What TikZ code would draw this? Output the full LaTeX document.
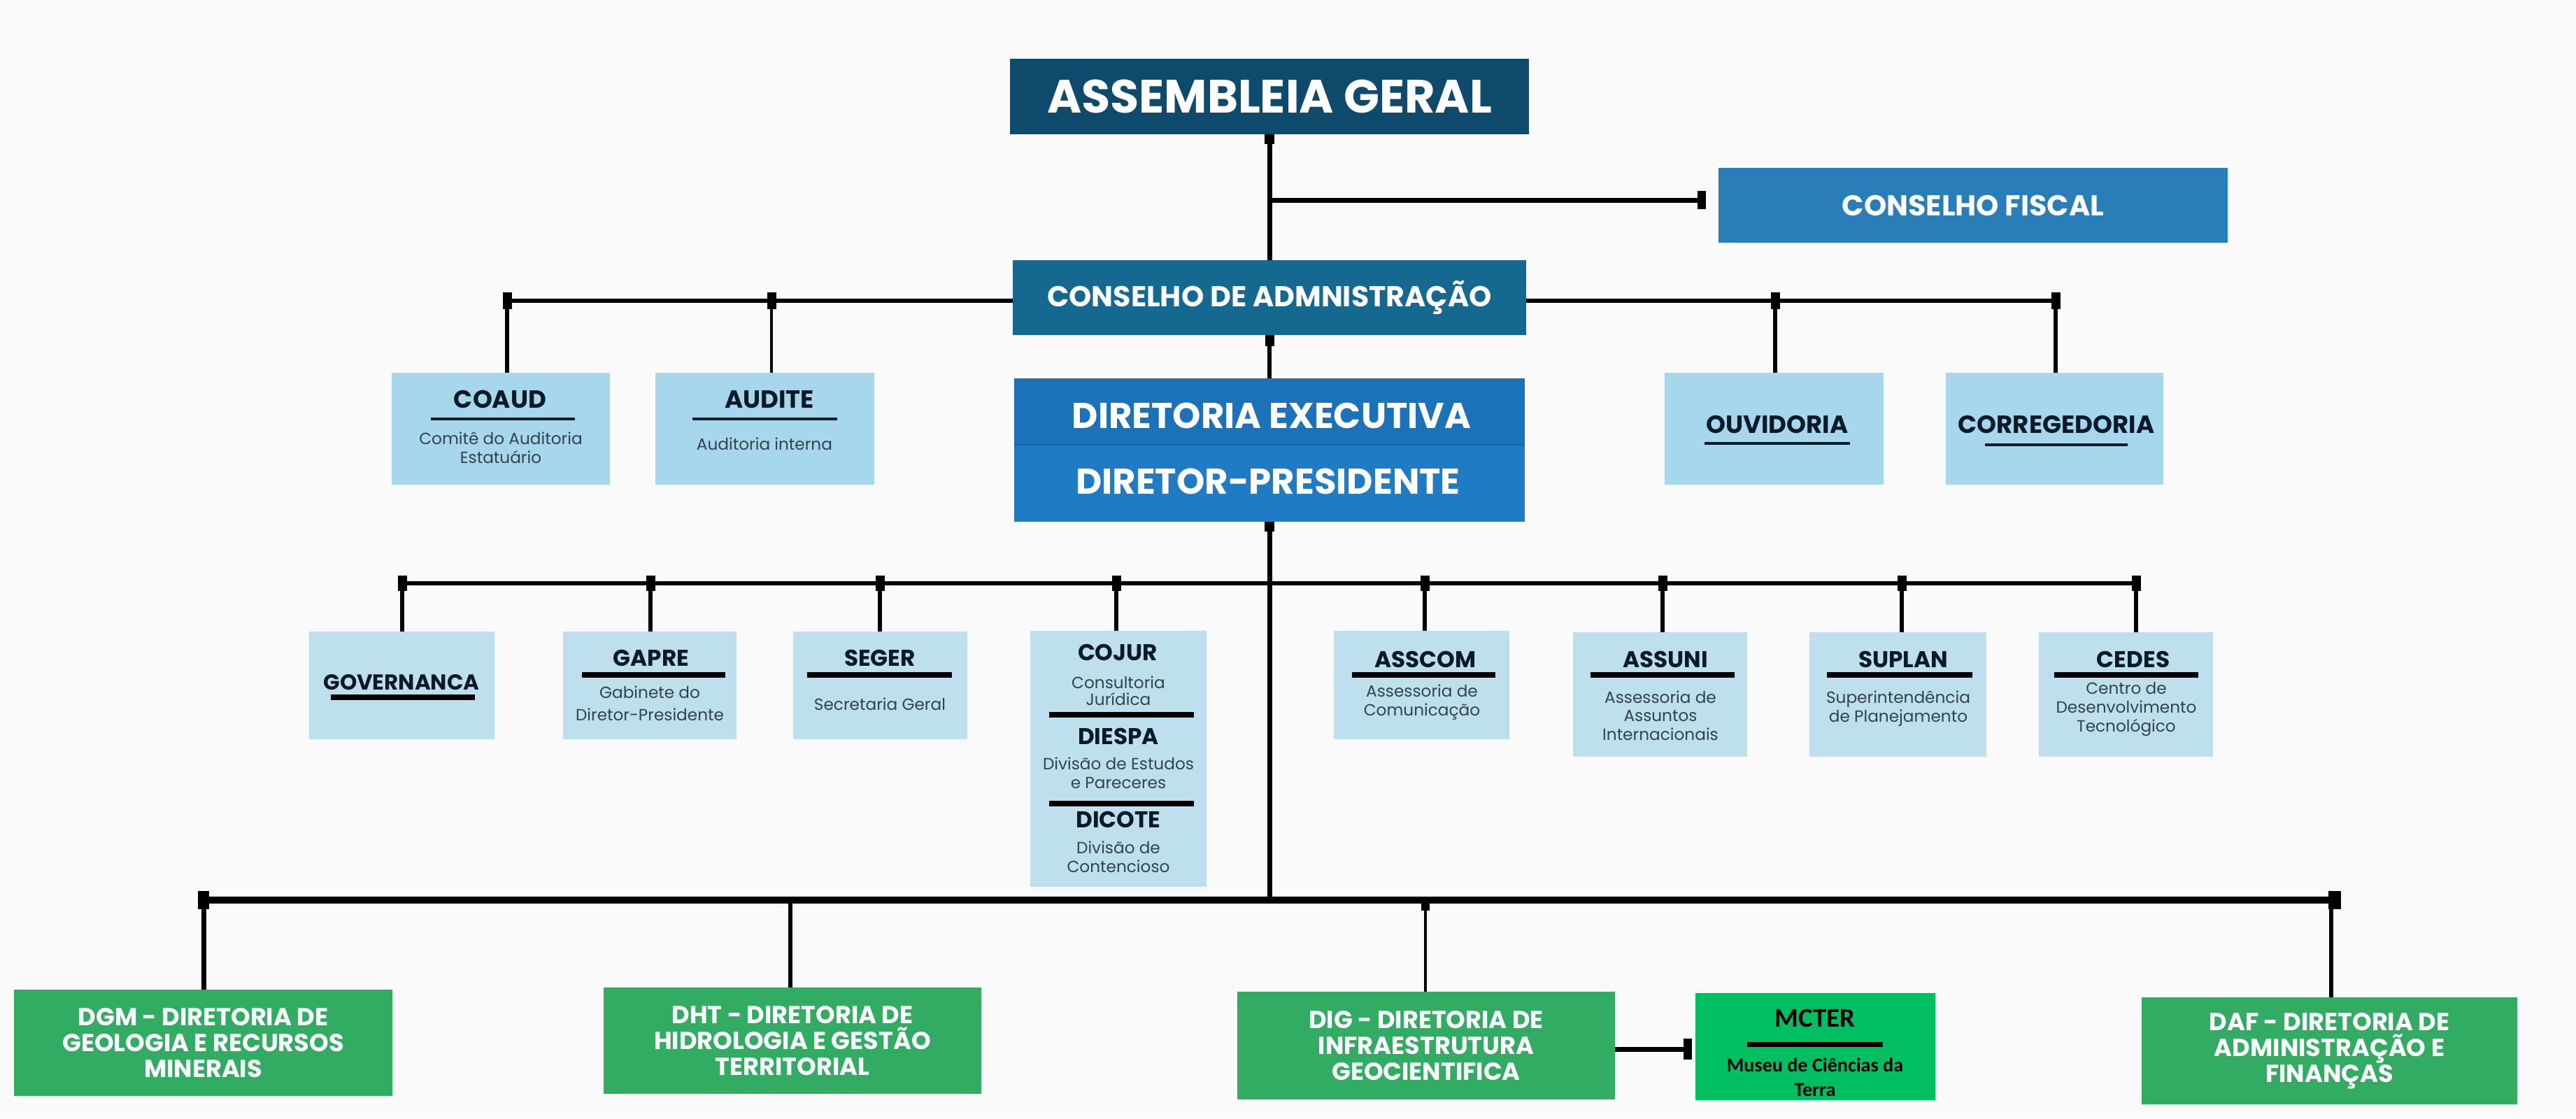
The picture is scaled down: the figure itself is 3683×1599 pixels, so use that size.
\documentclass[tikz,border=0pt]{standalone}
\usepackage{fontspec}
\setmainfont{Poppins}
\newfontfamily\carl{Carlito}
\usetikzlibrary{calc}
\definecolor{bgc}{HTML}{FAFAFA}
\definecolor{assemc}{HTML}{0E4A6B}
\definecolor{consc}{HTML}{15688F}
\definecolor{fiscc}{HTML}{2A7EB7}
\definecolor{dirc}{HTML}{1B72B9}
\definecolor{dirlow}{HTML}{1F7BC4}
\definecolor{lbone}{HTML}{A6D7ED}
\definecolor{lbtwo}{HTML}{BDDFEE}
\definecolor{grnc}{HTML}{31AC62}
\definecolor{mctc}{HTML}{00BE62}
\definecolor{navyc}{HTML}{0A1A2A}
\definecolor{subc}{HTML}{33434D}
\begin{document}
\begin{tikzpicture}[x=0.01cm,y=-0.01cm,
  box/.style={rectangle,inner sep=0pt,outer sep=0pt,draw=none},
  lnA/.style={line width=0.07cm,black},
  lnB/.style={line width=0.055cm,black},
  lnC/.style={line width=0.035cm,black},
  lnD/.style={line width=0.10cm,black},
  ulA/.style={line width=0.045cm,navyc},
  ulB/.style={line width=0.08cm,black},
  fA/.style={font=\fontsize{19}{22}\selectfont\bfseries,text=white},
  fB/.style={font=\fontsize{11.7}{14}\selectfont\bfseries,text=white},
  fC/.style={font=\fontsize{14.6}{17}\selectfont\bfseries,text=white},
  tA/.style={font=\fontsize{10.1}{12}\selectfont\bfseries,text=navyc,inner sep=0pt},
  tB/.style={font=\fontsize{9.3}{11}\selectfont\bfseries,text=navyc,inner sep=0pt},
  sA/.style={font=\fontsize{6.6}{7.6}\selectfont,text=subc,align=center,inner sep=0pt},
  fG/.style={font=\fontsize{10}{10.5}\selectfont\bfseries,text=white,align=center},
  pics/jm/.style args={#1/#2}{code={\fill[black] (-#1/2,-#2/2) rectangle (#1/2,#2/2);}}
]
\useasboundingbox (0,0) rectangle (3683,1599);
\fill[bgc] (0,0) rectangle (3683,1599);

% ---------- top level ----------
\node[box,fill=assemc,minimum width=7.42cm,minimum height=1.08cm,fA] (assem) at (1815,138) {ASSEMBLEIA GERAL};
\node[box,fill=fiscc,minimum width=7.28cm,minimum height=1.07cm,fB] (fiscal) at (2821,293.5) {CONSELHO FISCAL};
\node[box,fill=consc,minimum width=7.34cm,minimum height=1.07cm,fB] (consadm) at (1815,425.5) {CONSELHO DE ADMNISTRAÇÃO};
\node[box,fill=dirc,minimum width=7.30cm,minimum height=2.05cm] (dir) at (1815,643.5) {};
\fill[dirlow] (dir.west |- 0,636) rectangle (dir.south east);
\draw[dirc!85!black,line width=0.02cm] (dir.west |- 0,636) -- (dir.east |- 0,636);
\node[fC] (dir-t1) at (1818,594) {DIRETORIA EXECUTIVA};
\node[fC] (dir-t2) at (1813,688) {DIRETOR-PRESIDENTE};

% ---------- boxes attached to the board ----------
\node[box,fill=lbone,minimum width=3.12cm,minimum height=1.60cm] (coaud) at (716,613) {};
\node[box,fill=lbone,minimum width=3.13cm,minimum height=1.60cm] (audite) at (1093.5,613) {};
\node[box,fill=lbone,minimum width=3.13cm,minimum height=1.60cm] (ouvid) at (2536.5,613) {};
\node[box,fill=lbone,minimum width=3.11cm,minimum height=1.60cm] (correg) at (2937.5,613) {};

\node[tA] (coaud-t) at (715,571) {COAUD};
\draw[ulA] (616,599) -- (822,599);
\node[sA] (coaud-s) at (716,640) {Comitê do Auditoria\\Estatuário};
\node[tA] (audite-t) at (1100,571) {AUDITE};
\draw[ulA] (990,599) -- (1197,599);
\node[sA] (audite-s) at (1093,635) {Auditoria interna};
\node[tA] (ouvid-t) at (2541,607) {OUVIDORIA};
\draw[ulA] (2437,634) -- (2645,634);
\node[tA] (correg-t) at (2940,607) {CORREGEDORIA};
\draw[ulA] (2838,636) -- (3042,636);

% ---------- staff row ----------
\node[box,fill=lbtwo,minimum width=2.65cm,minimum height=1.54cm] (gov) at (574.5,980) {};
\node[box,fill=lbtwo,minimum width=2.48cm,minimum height=1.54cm] (gapre) at (929,980) {};
\node[box,fill=lbtwo,minimum width=2.49cm,minimum height=1.54cm] (seger) at (1258.5,980) {};
\node[box,fill=lbtwo,minimum width=2.52cm,minimum height=3.66cm] (cojur) at (1599,1085) {};
\node[box,fill=lbtwo,minimum width=2.51cm,minimum height=1.55cm] (asscom) at (2032.5,979.5) {};
\node[box,fill=lbtwo,minimum width=2.49cm,minimum height=1.78cm] (assuni) at (2373.5,993) {};
\node[box,fill=lbtwo,minimum width=2.53cm,minimum height=1.78cm] (suplan) at (2713.5,993) {};
\node[box,fill=lbtwo,minimum width=2.49cm,minimum height=1.78cm] (cedes) at (3039.5,993) {};

\node[tB,font=\fontsize{8.8}{11}\selectfont\bfseries] (gov-t) at (574,976) {GOVERNANCA};
\draw[ulB] (473,997) -- (679,997);
\node[tB] (gapre-t) at (931,941) {GAPRE};
\draw[ulB] (832,965) -- (1037,965);
\node[sA,font=\fontsize{6.6}{9}\selectfont] (gapre-s) at (929,1006) {Gabinete do\\Diretor-Presidente};
\node[tB] (seger-t) at (1258,941) {SEGER};
\draw[ulB] (1154,965) -- (1361,965);
\node[sA] (seger-s) at (1258,1007) {Secretaria Geral};

\node[tB] (cojur-t) at (1598,933) {COJUR};
\node[sA,font=\fontsize{6.6}{6.8}\selectfont] (cojur-s) at (1599,988) {Consultoria\\Jurídica};
\draw[ulB] (1500,1022) -- (1707,1022);
\node[tB] (diespa-t) at (1599,1053) {DIESPA};
\node[sA] (diespa-s) at (1599,1105) {Divisão de Estudos\\e Pareceres};
\draw[ulB] (1500,1149) -- (1707,1149);
\node[tB] (dicote-t) at (1599,1172) {DICOTE};
\node[sA] (dicote-s) at (1599,1225) {Divisão de\\Contencioso};

\node[tB] (asscom-t) at (2038,943) {ASSCOM};
\draw[ulB] (1933,965) -- (2138,965);
\node[sA] (asscom-s) at (2033,1004) {Assessoria de\\Comunicação};
\node[tB] (assuni-t) at (2381,943) {ASSUNI};
\draw[ulB] (2274,965) -- (2480,965);
\node[sA] (assuni-s) at (2374,1023) {Assessoria de\\Assuntos\\Internacionais};
\node[tB] (suplan-t) at (2721,943) {SUPLAN};
\draw[ulB] (2612,965) -- (2820,965);
\node[sA] (suplan-s) at (2714,1013) {Superintendência\\de Planejamento};
\node[tB] (cedes-t) at (3050,943) {CEDES};
\draw[ulB] (2937,965) -- (3143,965);
\node[sA] (cedes-s) at (3040,1014) {Centro de\\Desenvolvimento\\Tecnológico};

% ---------- directorates ----------
\node[box,fill=grnc,minimum width=5.41cm,minimum height=1.52cm,fG] (dgm) at (290.5,1491) {DGM - DIRETORIA DE\\GEOLOGIA E RECURSOS\\MINERAIS};
\node[box,fill=grnc,minimum width=5.40cm,minimum height=1.52cm,fG] (dht) at (1133,1488) {DHT - DIRETORIA DE\\HIDROLOGIA E GESTÃO\\TERRITORIAL};
\node[box,fill=grnc,minimum width=5.40cm,minimum height=1.54cm,fG] (dig) at (2039,1495) {DIG - DIRETORIA DE\\INFRAESTRUTURA\\GEOCIENTIFICA};
\node[box,fill=mctc,minimum width=3.43cm,minimum height=1.53cm] (mcter) at (2595.5,1496.5) {};
\node[box,fill=grnc,minimum width=5.37cm,minimum height=1.53cm,fG] (daf) at (3330.5,1502.5) {DAF - DIRETORIA DE\\ADMINISTRAÇÃO E\\FINANÇAS};

\node[font=\carl\fontsize{11}{13}\selectfont\bfseries,text=black,inner sep=0pt] (mcter-t) at (2595,1456) {MCTER};
\draw[line width=0.07cm,black] (2498,1493) -- (2692,1493);
\node[font=\carl\fontsize{8}{10}\selectfont\bfseries,text=black,align=center,inner sep=0pt] (mcter-s) at (2595,1540) {Museu de Ciências da\\Terra};

% ---------- connectors ----------
% assembly -> board, fiscal council
\draw[lnA] (assem) -- (consadm);
\pic at ($(assem.south)+(0,7)$) {jm=14/14};
\coordinate (fj) at (1815,286);
\coordinate (fe) at (2433,286);
\draw[lnA] (fj) -- (fe);
\pic at (fe) {jm=12/26};

% board -> committees
\coordinate (jL1) at (725,430);
\coordinate (jL2) at (1103,430);
\coordinate (jR1) at (2538,430);
\coordinate (jR2) at (2939,430);
\draw[lnB] (consadm.west |- jL1) -- (jL1);
\draw[lnB] (jL1) -- (jL1 |- coaud.north);
\draw[lnC] (jL2) -- (jL2 |- audite.north);
\draw[lnB] (consadm.east |- jR1) -- (jR2);
\draw[lnB] (jR1) -- (jR1 |- ouvid.north);
\draw[lnB] (jR2) -- (jR2 |- correg.north);
\foreach \c in {jL1,jL2,jR1,jR2} {\pic at (\c) {jm=13/24};}

% board -> executive board
\draw[lnB] (consadm) -- (dir);
\pic at ($(consadm.south)+(0,8)$) {jm=13/16};

% executive board -> staff row and directorates
\coordinate (bb) at (1815,1287);
\draw[lnA] (dir.south) -- (bb);
\pic at ($(dir.south)+(0,7)$) {jm=14/14};
\coordinate (m1) at (575,834);
\coordinate (m2) at (930,834);
\coordinate (m3) at (1258,834);
\coordinate (m4) at (1596,834);
\coordinate (m5) at (2037,834);
\coordinate (m6) at (2377,834);
\coordinate (m7) at (2719,834);
\coordinate (m8) at (3054,834);
\draw[lnB] (m1) -- (m8);
\draw[lnB] (m1) -- (m1 |- gov.north);
\draw[lnB] (m2) -- (m2 |- gapre.north);
\draw[lnB] (m3) -- (m3 |- seger.north);
\draw[lnB] (m4) -- (m4 |- cojur.north);
\draw[lnB] (m5) -- (m5 |- asscom.north);
\draw[lnB] (m6) -- (m6 |- assuni.north);
\draw[lnB] (m7) -- (m7 |- suplan.north);
\draw[lnB] (m8) -- (m8 |- cedes.north);
\foreach \c in {m1,m2,m3,m4,m5,m6,m7,m8} {\pic at (\c) {jm=13/22};}

\coordinate (bL) at (291,1287);
\coordinate (bR) at (3344,1287);
\coordinate (bH) at (1130,1287);
\coordinate (bG) at (2038,1287);
\coordinate (bD) at (3333,1287);
\draw[lnD] (bL) -- (bR);
\draw[lnA] (bL) -- (bL |- dgm.north);
\draw[lnB] (bH) -- (bH |- dht.north);
\draw[lnC] (bG) -- (bG |- dig.north);
\draw[lnB] (bD) -- (bD |- daf.north);
\pic at (bL) {jm=16/26};
\pic at ($(bG)+(0,6)$) {jm=12/18};
\pic at ($(bR)+(-6,0)$) {jm=18/26};

% DIG -> MCTER
\coordinate (mc) at (2413,1500);
\draw[lnA] (dig.east |- mc) -- (mc);
\pic at (mc) {jm=12/30};
\end{tikzpicture}
\end{document}
